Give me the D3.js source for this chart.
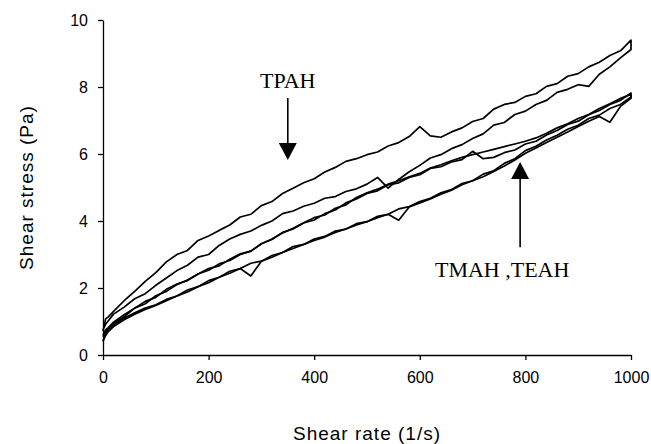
<!DOCTYPE html>
<html lang="en">
<head>
<meta charset="UTF-8">
<title>shear</title>
<style>
  body { margin: 0; background: #fff; }
  .curve { fill: none; stroke: #000; stroke-width: 1.7px; stroke-linejoin: round; }
  .axis path, .axis line { stroke: #000; stroke-width: 1.3px; }
  .axis text { font-family: "Liberation Sans", Arial, sans-serif; font-size: 16px; fill: #000; }
  .title { font-family: "Liberation Sans", Arial, sans-serif; font-size: 19px; letter-spacing: 1px; }
  .note { font-family: "Liberation Serif", "Times New Roman", serif; font-size: 22px; }
</style>
</head>
<body>
<div id="chart"></div>
<script src="https://d3js.org/d3.v7.min.js"></script>
<script>
// shear rate grid (1/s), shared by every curve
var shear = [0, 5, 10, 20, 40, 60, 80, 100, 120, 140, 160, 180, 200, 220, 240, 260, 280, 300,
  320, 340, 360, 380, 400, 420, 440, 460, 480, 500, 520, 540, 560, 580, 600, 620, 640, 660,
  680, 700, 720, 740, 760, 780, 800, 820, 840, 860, 880, 900, 920, 940, 960, 980, 1000];

// shear stress (Pa), ramp up / ramp down for each sample
var tpahUp = [0.72, 1.08, 1.14, 1.30, 1.62, 1.90, 2.20, 2.46, 2.78, 3.00, 3.12, 3.42, 3.55,
  3.72, 3.88, 4.12, 4.20, 4.46, 4.58, 4.82, 4.98, 5.14, 5.26, 5.46, 5.60, 5.78, 5.86, 5.98,
  6.06, 6.24, 6.34, 6.52, 6.82, 6.54, 6.50, 6.66, 6.78, 6.97, 7.06, 7.34, 7.48, 7.54, 7.72,
  7.80, 8.02, 8.10, 8.32, 8.40, 8.60, 8.74, 8.94, 9.08, 9.40];
var tpahDown = [0.75, 0.92, 1.02, 1.22, 1.43, 1.68, 1.83, 2.08, 2.30, 2.52, 2.68, 2.92, 3.00,
  3.27, 3.46, 3.60, 3.70, 3.87, 4.00, 4.22, 4.30, 4.44, 4.53, 4.68, 4.73, 4.88, 4.96, 5.10,
  5.30, 4.98, 5.24, 5.47, 5.66, 5.88, 5.98, 6.16, 6.28, 6.46, 6.60, 6.86, 6.94, 7.18, 7.28,
  7.48, 7.60, 7.84, 7.93, 8.07, 8.02, 8.38, 8.60, 8.87, 9.12];
var tmahUp = [0.55, 0.72, 0.80, 0.94, 1.14, 1.40, 1.53, 1.77, 1.90, 2.10, 2.24, 2.42, 2.53,
  2.72, 2.82, 3.00, 3.10, 3.32, 3.46, 3.64, 3.78, 3.94, 4.03, 4.22, 4.33, 4.54, 4.66, 4.82,
  4.90, 5.08, 5.14, 5.30, 5.38, 5.57, 5.62, 5.76, 5.83, 6.08, 5.86, 5.90, 6.04, 6.12, 6.30,
  6.38, 6.57, 6.70, 6.88, 6.98, 7.17, 7.30, 7.48, 7.60, 7.82];
var teahUp = [0.60, 0.75, 0.82, 0.98, 1.20, 1.40, 1.60, 1.72, 1.96, 2.12, 2.22, 2.42, 2.58,
  2.66, 2.86, 3.02, 3.10, 3.32, 3.45, 3.66, 3.76, 3.95, 4.10, 4.18, 4.38, 4.48, 4.70, 4.84,
  4.95, 5.10, 5.20, 5.32, 5.42, 5.58, 5.68, 5.80, 5.90, 5.98, 6.06, 6.14, 6.22, 6.30, 6.38,
  6.48, 6.62, 6.78, 6.90, 7.06, 7.18, 7.36, 7.50, 7.66, 7.78];
var tmahDown = [0.40, 0.62, 0.76, 0.90, 1.10, 1.26, 1.40, 1.50, 1.66, 1.76, 1.94, 2.04, 2.22,
  2.32, 2.50, 2.58, 2.74, 2.80, 2.97, 3.06, 3.24, 3.30, 3.46, 3.54, 3.70, 3.76, 3.92, 3.98,
  4.14, 4.20, 4.36, 4.43, 4.58, 4.68, 4.84, 4.94, 5.12, 5.20, 5.40, 5.50, 5.72, 5.86, 6.10,
  6.23, 6.42, 6.56, 6.74, 6.86, 7.06, 7.16, 7.36, 7.48, 7.70];
var teahDown = [0.45, 0.58, 0.70, 0.85, 1.05, 1.22, 1.36, 1.48, 1.62, 1.76, 1.88, 2.04, 2.16,
  2.32, 2.44, 2.58, 2.36, 2.80, 2.92, 3.06, 3.18, 3.30, 3.42, 3.52, 3.66, 3.76, 3.88, 3.98,
  4.10, 4.20, 4.02, 4.42, 4.54, 4.66, 4.80, 4.92, 5.08, 5.20, 5.32, 5.48, 5.64, 5.82, 6.02,
  6.18, 6.34, 6.50, 6.66, 6.82, 6.98, 7.12, 6.95, 7.42, 7.66];

var loops = [[tpahUp, tpahDown], [tmahUp, tmahDown], [teahUp, teahDown]];

var xTicks = [0, 200, 400, 600, 800, 1000];
var yTicks = [0, 2, 4, 6, 8, 10];

// annotations: label, arrow from -> to (data units), label anchor
var notes = [
  {label: "TPAH", x: 350, textY: 7.97, from: 7.67, to: 5.82},
  {label: "TMAH ,TEAH", x: 790, textX: 756, textY: 2.33, from: 3.22, to: 5.76}
];

var margin = {top: 20, right: 20, bottom: 89, left: 103};
var W = 651, H = 444;
var width = 631 - margin.left;
var height = H - margin.top - margin.bottom;

var svg = d3.select("#chart").append("svg")
  .attr("width", W).attr("height", H);
var g = svg.append("g")
  .attr("transform", "translate(" + margin.left + "," + margin.top + ")");

var x = d3.scaleLinear().domain([0, 1000]).range([0, width]);
var y = d3.scaleLinear().domain([0, 10]).range([height, 0]);

// curves: up ramp then back down to close each loop
var line = d3.line().x(function(d) { return x(d[0]); }).y(function(d) { return y(d[1]); });
loops.forEach(function(pair) {
  var pts = shear.map(function(s, i) { return [s, pair[0][i]]; });
  var back = shear.map(function(s, i) { return [s, pair[1][i]]; }).reverse();
  g.append("path").attr("class", "curve").attr("d", line(pts.concat(back)));
});

// axes
g.append("g").attr("class", "axis")
  .attr("transform", "translate(0," + height + ")")
  .call(d3.axisBottom(x).tickValues(xTicks).tickFormat(d3.format("d"))
    .tickSize(5).tickSizeOuter(0).tickPadding(12));
g.append("g").attr("class", "axis")
  .call(d3.axisLeft(y).tickValues(yTicks).tickFormat(d3.format("d"))
    .tickSize(5).tickSizeOuter(0).tickPadding(10));

// axis titles
svg.append("text").attr("class", "title")
  .attr("x", margin.left + width / 2).attr("y", 440)
  .attr("text-anchor", "middle").text("Shear rate (1/s)");
svg.append("text").attr("class", "title")
  .attr("transform", "translate(33," + (margin.top + height / 2) + ") rotate(-90)")
  .attr("text-anchor", "middle").text("Shear stress (Pa)");

// arrows with labels
notes.forEach(function(n) {
  var ax = x(n.x), y0 = y(n.from), y1 = y(n.to);
  var dir = y1 > y0 ? 1 : -1;
  var head = 17, half = 9;
  g.append("line").attr("x1", ax).attr("x2", ax)
    .attr("y1", y0).attr("y2", y1 - dir * head)
    .attr("stroke", "#000").attr("stroke-width", 1.6);
  g.append("path")
    .attr("d", "M" + ax + "," + y1 + "L" + (ax - half) + "," + (y1 - dir * head) +
      "L" + (ax + half) + "," + (y1 - dir * head) + "Z")
    .attr("fill", "#000");
  g.append("text").attr("class", "note")
    .attr("x", x(n.textX !== undefined ? n.textX : n.x)).attr("y", y(n.textY))
    .attr("text-anchor", "middle").text(n.label);
});
</script>
</body>
</html>
